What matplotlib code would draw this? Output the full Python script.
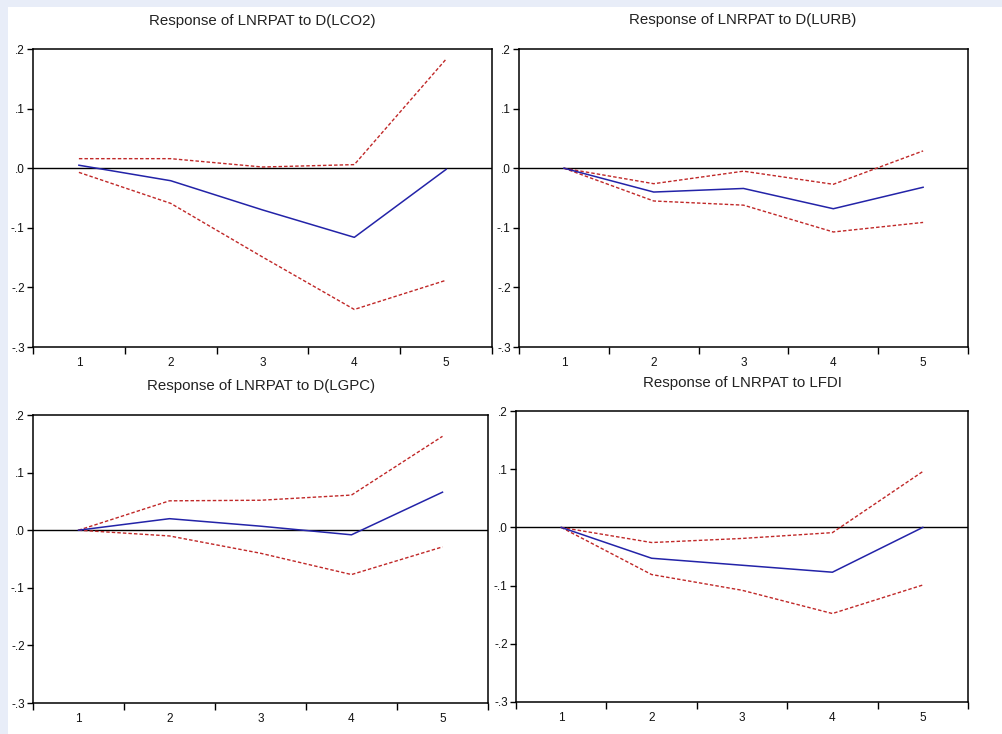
import matplotlib
matplotlib.use("Agg")
import matplotlib.pyplot as plt
from matplotlib.patches import Rectangle

plt.rcParams['font.family'] = ['Liberation Sans', 'DejaVu Sans']

periods = [1, 2, 3, 4, 5]
titles = ["Response of LNRPAT to D(LCO2)", "Response of LNRPAT to D(LURB)",
          "Response of LNRPAT to D(LGPC)", "Response of LNRPAT to LFDI"]

resp_lco2 = [0.005, -0.021, -0.070, -0.116, -0.002]
upper_lco2 = [0.016, 0.016, 0.002, 0.006, 0.183]
lower_lco2 = [-0.007, -0.059, -0.149, -0.237, -0.188]

resp_lurb = [0.000, -0.040, -0.034, -0.068, -0.032]
upper_lurb = [0.000, -0.026, -0.005, -0.027, 0.029]
lower_lurb = [0.000, -0.055, -0.062, -0.107, -0.091]

resp_lgpc = [0.000, 0.020, 0.007, -0.008, 0.066]
upper_lgpc = [0.000, 0.051, 0.052, 0.061, 0.163]
lower_lgpc = [0.000, -0.010, -0.040, -0.077, -0.029]

resp_lfdi = [0.000, -0.053, -0.065, -0.077, 0.000]
upper_lfdi = [0.000, -0.026, -0.019, -0.009, 0.096]
lower_lfdi = [0.000, -0.081, -0.108, -0.148, -0.099]

y_ticks = [0.2, 0.1, 0.0, -0.1, -0.2, -0.3]
y_labels = [".2", ".1", ".0", "-.1", "-.2", "-.3"]

series = [(resp_lco2, upper_lco2, lower_lco2),
          (resp_lurb, upper_lurb, lower_lurb),
          (resp_lgpc, upper_lgpc, lower_lgpc),
          (resp_lfdi, upper_lfdi, lower_lfdi)]

W, H = 1002, 734
fig = plt.figure(figsize=(W / 100, H / 100), dpi=100)
fig.patch.set_facecolor('#e8edf8')
bg = Rectangle((8 / W, 0), 1 - 8 / W, 1 - 7 / H, transform=fig.transFigure,
               facecolor='white', edgecolor='none', zorder=-10)
fig.patches.append(bg)

# pixel boxes: left, right, top, bottom
boxes = [(33, 492, 49, 347), (519, 968, 49, 347), (33, 488, 415, 703), (516, 968, 411, 702)]
title_pos = [(262, 21), (743, 20), (261, 386), (742, 383)]

for i, ((l, r, t, b), (resp, up, lo)) in enumerate(zip(boxes, series)):
    ax = fig.add_axes([l / W, 1 - b / H, (r - l) / W, (b - t) / H])
    ax.set_facecolor('white')
    ax.axhline(0, color='black', lw=1.0, zorder=1)
    ax.plot(periods, up, color='#c02828', lw=1.0, ls=(0, (2.5, 1.5)), zorder=2)
    ax.plot(periods, lo, color='#c02828', lw=1.0, ls=(0, (2.5, 1.5)), zorder=2)
    ax.plot(periods, resp, color='#2323a8', lw=1.1, zorder=3)
    ax.set_xlim(0.5, 5.5)
    ax.set_ylim(-0.3, 0.2)
    ax.set_yticks(y_ticks)
    ax.set_yticklabels(y_labels, fontsize=8.5, color='#111111')
    ax.set_xticks([0.5, 1.5, 2.5, 3.5, 4.5, 5.5])
    ax.set_xticklabels([])
    ax.set_xticks(periods, minor=True)
    ax.set_xticklabels([str(p) for p in periods], minor=True, fontsize=8.5, color='#111111')
    ax.tick_params(axis='x', which='major', direction='out', length=5, width=1.0)
    ax.tick_params(axis='x', which='minor', length=0, pad=7)
    ax.tick_params(axis='y', direction='out', length=4, width=1.0, pad=2)
    for s in ax.spines.values():
        s.set_linewidth(1.1)
        s.set_color('black')
    tx, ty = title_pos[i]
    fig.text(tx / W, 1 - ty / H, titles[i], ha='center', va='center', fontsize=10.8, color='#222222')

fig.savefig('out.png', dpi=100, facecolor=fig.get_facecolor())
